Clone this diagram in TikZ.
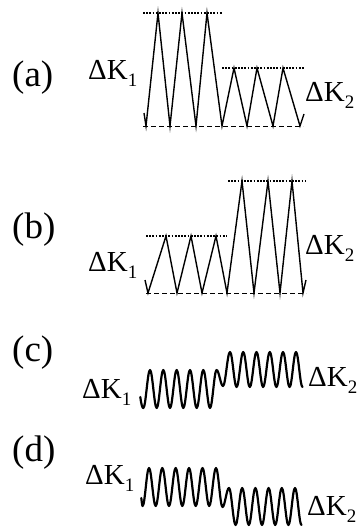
\documentclass[tikz,border=0pt]{standalone}
\usepackage{fontspec}
\setmainfont{Liberation Serif}
\newcommand\sbs[1]{\raisebox{-7.5pt}{\fontsize{19}{19}\selectfont #1}}
\begin{document}
\begin{tikzpicture}[x=1pt,y=-1pt,
  zig/.style={line width=1.4pt, line join=miter, miter limit=20},
  wavy/.style={line width=2.2pt, line join=round, line cap=round},
  dotline/.style={line width=1.3pt, dash pattern=on 1.8pt off 1.4pt},
  dashline/.style={line width=1pt, dash pattern=on 5pt off 3pt},
  lbl/.style={anchor=base west, inner sep=0pt, font=\fontsize{37}{37}\selectfont},
  dk/.style={anchor=base west, inner sep=0pt, font=\fontsize{29}{29}\selectfont}]
\useasboundingbox (0,0) rectangle (363,527);

% ---------- (a) ----------
\node[lbl] (la) at (12,86) {(a)};
\node[dk] (a1) at (88,79) {ΔK\sbs{1}};
\node[dk] (a2) at (305,101) {ΔK\sbs{2}};
\draw[dotline] (143,13) -- (222,13);
\draw[dotline] (222,68) -- (304,68);
\draw[dashline] (143,126) -- (303,126);
\draw[zig] (144,113) -- (146,126) -- (158,13) -- (170,126) -- (182,13) -- (196,126)
  -- (207,13) -- (222,126) -- (234,68) -- (247,126) -- (257,68) -- (273,126)
  -- (283,68) -- (300,126) -- (304,114);

% ---------- (b) ----------
\node[lbl] (lb) at (12,238) {(b)};
\node[dk] (b1) at (88,271) {ΔK\sbs{1}};
\node[dk] (b2) at (305,254) {ΔK\sbs{2}};
\draw[dotline] (146,236) -- (227,236);
\draw[dotline] (228,181) -- (306,181);
\draw[dashline] (146,293) -- (306,293);
\draw[zig] (145,280) -- (148,293) -- (166,236) -- (177,293) -- (191,236) -- (202,293)
  -- (216,236) -- (227,293) -- (242,181) -- (254,293) -- (268,181) -- (280,293)
  -- (292,181) -- (303,293) -- (306,280);

% ---------- (c) ----------
\node[lbl] (lc) at (12,361) {(c)};
\node[dk] (c1) at (82,398) {ΔK\sbs{1}};
\node[dk] (c2) at (308,386) {ΔK\sbs{2}};
\draw[wavy] (140.3,397) .. controls (141.2,404) and (142.2,408) .. (143.3,408)
  foreach \x/\y [remember=\x as \px (initially 143.3), remember=\y as \py (initially 408)]
  in {150/370,156.7/408,163.3/370,170/408,176.7/370,183.3/408,190/370,196.7/408,
      203.3/370,210/408,216.6/370,223/386,230/352,236.6/387,243.2/352,249.8/387,
      256.5/352,263.1/387,269.8/352,276.4/387,283/352,289.6/387,296/352,302.5/387}
  { .. controls ({\px+0.3634*(\x-\px)},\py) and ({\x-0.3634*(\x-\px)},\y) .. (\x,\y) };

% ---------- (d) ----------
\node[lbl] (ld) at (12,461) {(d)};
\node[dk] (d1) at (85,484) {ΔK\sbs{1}};
\node[dk] (d2) at (307,515) {ΔK\sbs{2}};
\draw[wavy] (141.3,498) .. controls (141.9,503) and (142.2,506) .. (142.6,506)
  foreach \x/\y [remember=\x as \px (initially 142.6), remember=\y as \py (initially 506)]
  in {149/468,155.7/506,162.3/468,169/506,175.7/468,182.3/506,189/468,195.7/506,
      202.5/468,209.2/506,216/468,222.5/507,229/488,235.6/525,242.2/488,248.8/525,
      255.4/488,262/525,268.6/488,275.2/525,281.8/488,288.4/525,295/488,301.5/525}
  { .. controls ({\px+0.3634*(\x-\px)},\py) and ({\x-0.3634*(\x-\px)},\y) .. (\x,\y) };
\end{tikzpicture}
\end{document}
